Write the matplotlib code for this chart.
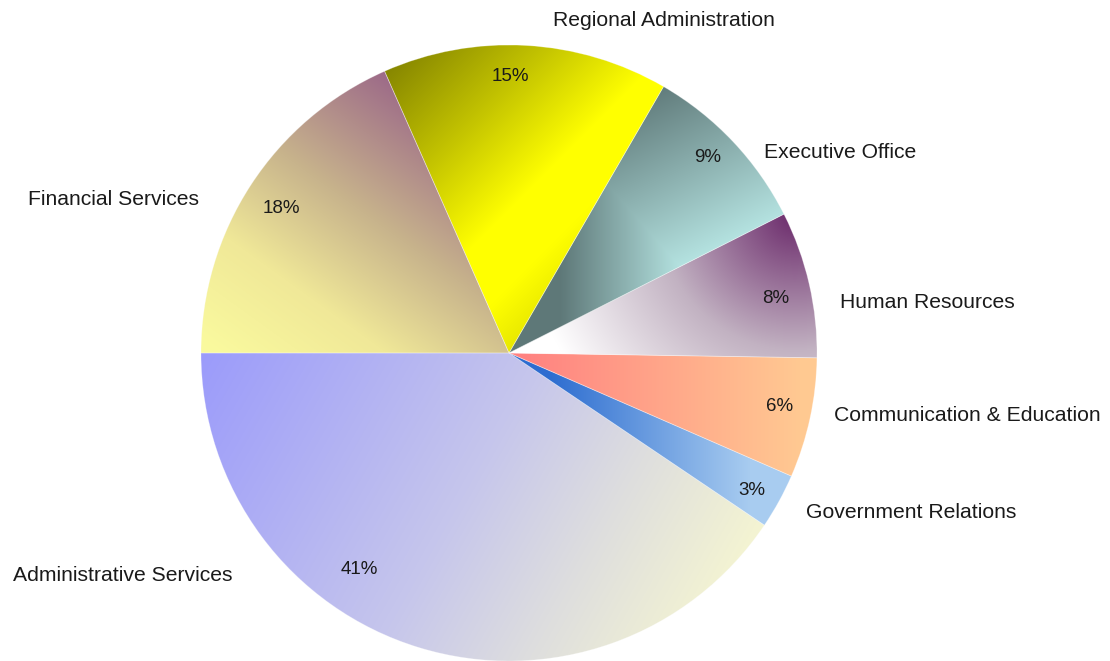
import numpy as np
import matplotlib.pyplot as plt
from matplotlib.colors import to_rgb

plt.rcParams['font.family'] = ['Liberation Sans', 'DejaVu Sans']

# budget share by department (percent), anticlockwise from 9 o'clock
departments = ['Administrative Services', 'Government Relations', 'Communication & Education',
               'Human Resources', 'Executive Office', 'Regional Administration',
               'Financial Services']
share = [40.6, 2.9, 6.3, 7.7, 9.2, 15.0, 18.4]

W, H = 1110, 661
cx, cy, R = 509, 353, 308   # pie centre / radius in pixels
nudge = -2 / R              # drop text so the glyphs sit centred on their anchor

fig = plt.figure(figsize=(W / 100, H / 100), dpi=100)
ax = fig.add_axes([0, 0, 1, 1])
xlim = (-cx / R, (W - cx) / R)
ylim = (-(H - cy) / R, cy / R)

wedges, texts, autotexts = ax.pie(
    share, startangle=180, counterclock=True, radius=1, center=(0, 0),
    autopct='%.0f%%', pctdistance=0.89,
    wedgeprops=dict(facecolor='none', edgecolor=(1, 1, 1, 0.3), linewidth=0.6),
    textprops=dict(fontsize=13.5, color='#1a1a1a'))

ax.set_xlim(*xlim)
ax.set_ylim(*ylim)
ax.set_aspect('auto')
ax.axis('off')

# pixel grid for the gradient fills
PX, PY = np.meshgrid(np.arange(W) + 0.5, np.arange(H) + 0.5)


def ramp(t, stops):
    pos = [s[0] for s in stops]
    cols = np.array([to_rgb(s[1]) for s in stops])
    t = np.clip(t, pos[0], pos[-1])
    return np.stack([np.interp(t, pos, cols[:, k]) for k in range(3)], axis=-1)


def linear(p0, p1):
    dx, dy = p1[0] - p0[0], p1[1] - p0[1]
    return ((PX - p0[0]) * dx + (PY - p0[1]) * dy) / (dx * dx + dy * dy)


def radial(c, r):
    return np.hypot(PX - c[0], PY - c[1]) / r


fills = {
    'Administrative Services': ramp(
        linear((200, 355), (720, 650)),
        [(0, '#9b9bfb'), (0.5, '#c6c6ec'), (0.73, '#dedede'), (1, '#f8f8d0')]),
    'Financial Services': ramp(
        linear((205, 345), (400, 75)),
        [(0, '#fafa9e'), (0.3, '#f0e898'), (0.6, '#c8b48c'), (1, '#9a6688')]),
    'Regional Administration': ramp(
        linear((390, 50), (545, 205)),
        [(0, '#7f7f00'), (0.5, '#c4c400'), (0.9, '#ffff00'), (1.15, '#ffff00'),
         (1.45, '#dede00')]),
    'Executive Office': ramp(
        np.maximum(np.clip(linear((680, 0), (560, 0)), 0, 1),
                   linear((509, 353), (430, 197))),
        [(0, '#b4e2e0'), (1, '#5e7878')]),
    'Human Resources': ramp(
        radial((795, 215), 270),
        [(0, '#6b2a6b'), (0.5, '#c2b2c2'), (1, '#ffffff')]),
    'Communication & Education': ramp(
        linear((515, 0), (800, 0)),
        [(0, '#ff8080'), (1, '#ffc992')]),
    'Government Relations': ramp(
        linear((550, 0), (750, 0)),
        [(0, '#2d6dd0'), (1, '#a8ccf0')]),
}

for name, w in zip(departments, wedges):
    w.set_zorder(2)
    ax.imshow(fills[name], extent=(*xlim, *ylim), origin='upper',
              interpolation='bilinear', clip_path=w, zorder=1, aspect='auto')

ax.set_xlim(*xlim)
ax.set_ylim(*ylim)


def polar(ang, r):
    a = np.radians(ang)
    return r * np.cos(a), r * np.sin(a) + nudge


# percentage labels: (angle, radius)
pct_layout = {
    'Administrative Services': (235.1, 0.851),
    'Financial Services': (147.2, 0.881),
    'Regional Administration': (89.8, 0.903),
    'Executive Office': (44.85, 0.911),
    'Human Resources': (11.85, 0.886),
    'Communication & Education': (-10.86, 0.896),
    'Government Relations': (-29.05, 0.903),
}
for name, t in zip(departments, autotexts):
    t.set_position(polar(*pct_layout[name]))
    t.set_zorder(3)

# category labels: (angle, radius, alignment)
label_layout = {
    'Administrative Services': (218.5, 1.148, 'right'),
    'Financial Services': (153.4, 1.125, 'right'),
    'Regional Administration': (65.2, 1.198, 'center'),
    'Executive Office': (38.4, 1.056, 'left'),
    'Human Resources': (9.1, 1.088, 'left'),
    'Communication & Education': (-10.5, 1.073, 'left'),
    'Government Relations': (-27.9, 1.091, 'left'),
}
for name in departments:
    ang, r, ha = label_layout[name]
    ax.text(*polar(ang, r), name, ha=ha, va='center',
            fontsize=15.2, color='#1a1a1a', zorder=3)

fig.savefig('out.png', dpi=100)
